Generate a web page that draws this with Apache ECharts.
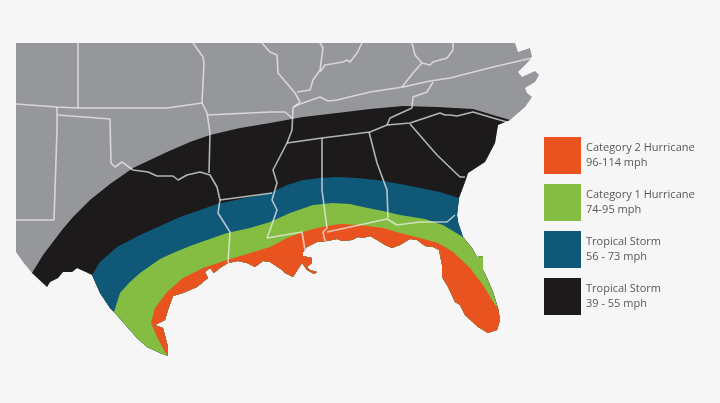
<!DOCTYPE html>
<html>
<head>
<meta charset="utf-8">
<style>html,body{margin:0;padding:0;background:#f6f6f7}#chart{width:720px;height:403px;filter:blur(0.5px)}</style>
<script src="https://cdn.jsdelivr.net/npm/echarts@6/dist/echarts.min.js"></script>
</head>
<body>
<div id="chart"></div>
<script>
// outlines, in picture units
var northEdge = [[16,43],[515,43],[518,52],[530,48],[532,57],[528,62],[518,72],[522,77],[535,71],[539,75],[535,82],[525,88],[527,93],[532,97],[525,107]];
var coast = [[510,120],[498,125],[495,143],[485,162],[468,173],[465,182],[459,198],[457,215],[458,222],[463,237],[472,248],[477,257],[483,256],[483,270],[487,278],[493,292],[498,308],[500,320],[497,330],[488,333],[478,327],[465,315],[460,305],[455,302],[448,287],[442,277],[442,265],[439,250],[433,247],[425,246],[417,240],[410,239],[400,245],[392,248],[385,245],[377,240],[370,236],[363,238],[358,237],[352,240],[342,241],[337,239],[327,241],[317,242],[307,247],[303,252],[303,256],[312,258],[312,263],[307,267],[310,270],[317,272],[314,274],[307,270],[302,263],[293,277],[285,273],[282,270],[270,262],[263,261],[255,267],[247,263],[238,261],[228,263],[220,268],[214,273],[210,268],[205,272],[208,278],[197,287],[183,293],[173,296],[168,310],[165,320],[155,325],[163,328],[168,347],[168,356],[160,353],[147,347],[137,338],[114,312],[110,308],[100,293],[92,275],[88,273],[77,268],[72,272],[63,272],[58,278],[50,282],[47,287],[45,285],[32,273],[23,262],[16,252]];

var ts39Edge = [[32,273],[43,255],[62,230],[73,217],[90,200],[110,184],[133,168],[167,152],[190,142],[210,135],[240,128],[270,123],[303,117],[337,113],[370,109],[403,106],[437,107],[473,109],[493,115],[510,120]];
var ts56Edge = [[92,275],[100,262],[117,247],[140,235],[160,226],[180,217],[200,210],[217,204],[245,198],[270,193],[287,185],[303,180],[320,178],[337,177],[357,178],[377,180],[400,184],[420,188],[440,192],[459,198]];
var cat1Edge = [[114,312],[120,293],[130,282],[140,273],[160,259],[173,253],[190,246],[207,240],[227,233],[250,228],[270,222],[290,213],[313,205],[333,203],[350,204],[363,207],[383,211],[400,215],[425,219],[443,225],[463,237]];
var cat2Edge = [[168,356],[165,352],[157,337],[151,323],[155,308],[167,292],[183,278],[203,268],[227,260],[247,254],[270,247],[287,238],[303,232],[313,229],[327,226],[340,224],[360,225],[383,228],[400,233],[420,238],[438,243],[453,252],[470,268],[483,285],[495,305],[498,308]];

var stateLines = [
  [[78,43],[78,108]],
  [[16,104],[57,107],[78,108],[167,108],[202,103]],
  [[57,107],[57,130],[55,190],[54,220],[16,220]],
  [[58,115],[110,119],[111,163],[115,167],[122,162],[133,170],[148,172],[157,176],[173,176],[178,180],[187,175],[200,172],[210,175],[217,187],[220,200],[218,213],[230,232],[228,263]],
  [[193,43],[203,57],[204,63],[202,103],[207,113],[210,133],[209,173]],
  [[207,115],[270,112],[285,112],[292,118]],
  [[262,43],[270,52],[277,55],[278,73],[295,93],[300,102],[293,108],[292,130],[287,143],[273,170],[277,183],[272,200],[277,210],[270,230],[267,238]],
  [[220,200],[272,193]],
  [[267,238],[302,232],[305,250]],
  [[287,143],[322,138],[370,132],[387,125],[410,123],[440,113],[445,115],[450,115],[457,116],[473,112],[493,118],[507,122]],
  [[322,138],[322,190],[327,228],[323,232],[325,241]],
  [[369,132],[377,163],[387,190],[388,218]],
  [[327,232],[387,219],[397,225],[420,222],[447,222],[455,215]],
  [[410,124],[437,155],[460,177],[465,177]],
  [[293,107],[300,104],[320,97],[328,101],[337,100],[370,92],[403,87],[430,81],[450,78],[493,67],[532,58]],
  [[320,43],[323,48],[320,70],[313,80],[310,90],[297,92]],
  [[320,72],[325,65],[343,62],[347,60],[350,62],[357,53],[362,43]],
  [[412,43],[415,55],[422,63],[413,73],[402,87]],
  [[422,63],[430,65],[433,62],[447,58],[453,50],[453,43]],
  [[433,82],[427,92],[413,97],[412,108],[390,118],[387,125]]
];

var names = ['Category 2 Hurricane\n96-114 mph', 'Category 1 Hurricane\n74-95 mph', 'Tropical Storm\n56 - 73 mph', 'Tropical Storm\n39 - 55 mph'];
var colors = ['#e9531f', '#84bd41', '#0f5878', '#1c1a1b'];

// band = its north edge plus the stretch of coast between the two ends of that edge
function coastIndex(pt) {
    for (var i = 0; i < coast.length; i++) {
        if (coast[i][0] === pt[0] && coast[i][1] === pt[1]) return i;
    }
    return -1;
}
function band(edge) {
    var from = coastIndex(edge[edge.length - 1]);
    var to = coastIndex(edge[0]);
    return edge.concat(coast.slice(from + 1, to));
}

function areaSeries(name, ring, color) {
    return {
        name: name,
        type: 'custom',
        coordinateSystem: 'cartesian2d',
        silent: true,
        animation: false,
        itemStyle: {color: color},
        data: ring,
        renderItem: function (params, api) {
            if (params.dataIndex !== 0) return;
            return {
                type: 'polygon',
                shape: {points: ring.map(function (p) { return api.coord(p); })},
                style: {fill: color}
            };
        }
    };
}

var series = [
    areaSeries('land', northEdge.concat(coast), '#96979a'),
    areaSeries(names[3], band(ts39Edge), colors[3]),
    areaSeries(names[2], band(ts56Edge), colors[2]),
    areaSeries(names[1], band(cat1Edge), colors[1]),
    areaSeries(names[0], band(cat2Edge), colors[0])
];
stateLines.forEach(function (line) {
    series.push({
        type: 'line',
        data: line,
        showSymbol: false,
        silent: true,
        animation: false,
        lineStyle: {color: 'rgba(240,240,240,0.72)', width: 1.6}
    });
});

var myChart = echarts.init(document.getElementById('chart'));
myChart.setOption({
    backgroundColor: '#f6f6f7',
    animation: false,
    grid: {left: 0, right: 0, top: 0, bottom: 0},
    xAxis: {type: 'value', min: 0, max: 720, show: false},
    yAxis: {type: 'value', min: 0, max: 403, inverse: true, show: false},
    legend: {
        orient: 'vertical',
        left: 544,
        top: 137,
        padding: 0,
        itemWidth: 37,
        itemHeight: 37,
        itemGap: 10,
        icon: 'rect',
        selectedMode: false,
        data: names,
        textStyle: {fontFamily: 'Open Sans', fontSize: 11, lineHeight: 15, color: '#58585a'}
    },
    series: series
});
</script>
</body>
</html>
